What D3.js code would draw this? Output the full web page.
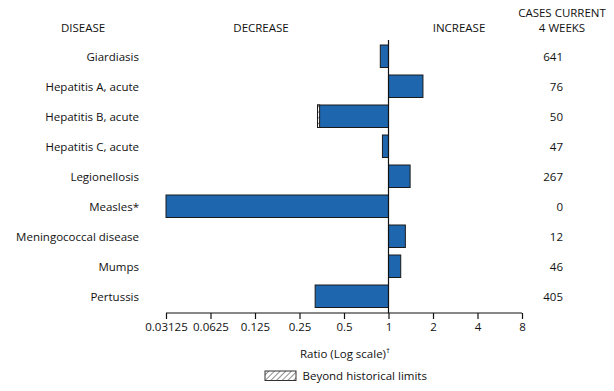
<!DOCTYPE html>
<html><head><meta charset="utf-8">
<script src="https://cdn.jsdelivr.net/npm/d3@7"></script>
<style>
body{margin:0;background:#fff;}
svg text{font-family:"Open Sans",sans-serif;fill:#111;}
</style></head>
<body><svg id="c" width="614" height="391"></svg>
<script>
const diseases = ["Giardiasis","Hepatitis A, acute","Hepatitis B, acute","Hepatitis C, acute","Legionellosis","Measles*","Meningococcal disease","Mumps","Pertussis"];
const ratios = [0.88, 1.71, 0.331, 0.91, 1.40, 0.03125, 1.30, 1.21, 0.319];
const historicalLimit = [null, null, 0.342, null, null, null, null, null, null];
const cases = ["641","76","50","47","267","0","12","46","405"];
const tickValues = [0.03125,0.0625,0.125,0.25,0.5,1,2,4,8];
const tickLabels = ["0.03125","0.0625","0.125","0.25","0.5","1","2","4","8"];

const svg = d3.select("#c");
const fs = 11.5;
const x = d3.scaleLog().base(2).domain([0.03125, 8]).range([166, 522]);
const y = d3.scaleBand().domain(diseases).range([41.25, 311.25]).paddingInner(0.25).paddingOuter(0.125);

const defs = svg.append("defs");
const pat = defs.append("pattern").attr("id","hatch").attr("patternUnits","userSpaceOnUse")
  .attr("width",4).attr("height",4).attr("patternTransform","rotate(45)");
pat.append("rect").attr("width",4).attr("height",4).attr("fill","#fff");
pat.append("line").attr("x1",0).attr("y1",0).attr("x2",0).attr("y2",4).attr("stroke","#444").attr("stroke-width",1.2);

// headers
const hdr = [["DISEASE",83,32],["DECREASE",261,32],["INCREASE",459,32],["CASES CURRENT",562,17],["4 WEEKS",562,32]];
svg.selectAll("text.hdr").data(hdr).join("text").attr("class","hdr")
  .attr("x",d=>d[1]).attr("y",d=>d[2]).attr("text-anchor","middle").attr("font-size",fs).text(d=>d[0]);

// bars
const g = svg.append("g");
diseases.forEach((d,i)=>{
  const r = ratios[i];
  const x0 = Math.min(x(r), x(1)), x1 = Math.max(x(r), x(1));
  g.append("rect").attr("x",x0).attr("y",y(d)).attr("width",x1-x0).attr("height",y.bandwidth())
    .attr("fill","#1e66ae").attr("stroke","#1a1a1a").attr("stroke-width",1);
  if (historicalLimit[i] !== null) {
    const h = historicalLimit[i];
    g.append("rect").attr("x",x(r)).attr("y",y(d)).attr("width",x(h)-x(r)).attr("height",y.bandwidth())
      .attr("fill","url(#hatch)").attr("stroke","#1a1a1a").attr("stroke-width",1);
  }
  svg.append("text").attr("x",139).attr("y",y(d)+y.bandwidth()/2+4.3).attr("text-anchor","end")
    .attr("font-size",fs).text(d);
  svg.append("text").attr("x",563).attr("y",y(d)+y.bandwidth()/2+4.3).attr("text-anchor","end")
    .attr("font-size",fs).text(cases[i]);
});

// vertical line at 1
svg.append("line").attr("x1",x(1)).attr("x2",x(1)).attr("y1",40).attr("y2",313)
  .attr("stroke","#111").attr("stroke-width",1.2);

// axis
const axis = d3.axisBottom(x).tickValues(tickValues).tickFormat((d,i)=>tickLabels[i]).tickSize(6).tickPadding(4);
const ag = svg.append("g").attr("transform","translate(0,313)").call(axis);
ag.select(".domain").attr("stroke","#111").attr("stroke-width",1.2).attr("d","M166,0H522");
ag.selectAll(".tick line").attr("stroke","#111").attr("stroke-width",1.2);
ag.selectAll(".tick text").attr("font-size",fs).attr("font-family","'Open Sans',sans-serif").attr("fill","#111");

// axis title
const t = svg.append("text").attr("x",345).attr("y",358).attr("text-anchor","middle").attr("font-size",fs);
t.append("tspan").text("Ratio (Log scale)");
t.append("tspan").attr("font-size",8).attr("dy",-5).text("†");

// legend
svg.append("rect").attr("x",265).attr("y",371).attr("width",31).attr("height",9.5)
  .attr("fill","url(#hatch)").attr("stroke","#333").attr("stroke-width",1);
svg.append("text").attr("x",302.5).attr("y",379.5).attr("font-size",fs).text("Beyond historical limits");
</script></body></html>
